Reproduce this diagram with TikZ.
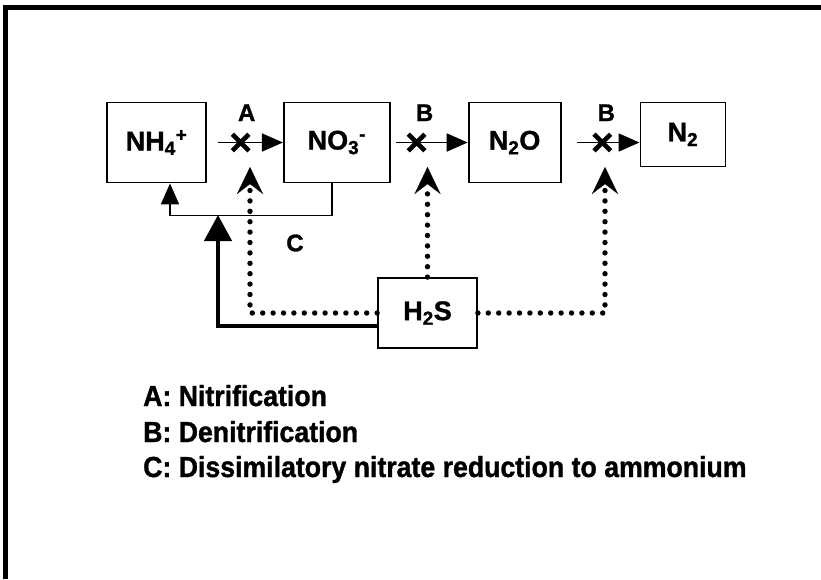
\documentclass[tikz,border=0pt]{standalone}
\usepackage{fontspec}
\setmainfont{Liberation Sans}[BoldFeatures={FakeBold=1.2}]
\newfontfamily\legendfont{Liberation Sans}[FakeStretch=0.92,BoldFeatures={FakeBold=1.2}]
\usepackage{tikz}
\usetikzlibrary{arrows.meta, positioning, shapes.misc}
\tikzset{
  species/.style={rectangle,draw=black,line width=1.8pt,fill=white,
    inner sep=0pt,font=\fontsize{27}{32}\selectfont\bfseries},
  flow/.style={-{Triangle[length=21pt,width=18pt]},line width=1.8pt,draw=black},
  bigflow/.style={-{Triangle[length=26pt,width=27pt]},line width=4.5pt,draw=black},
  dotflow/.style={-{Stealth[length=27pt,width=26pt,inset=10pt,line width=0.1pt]},
    line width=5.4pt,line cap=round,dash pattern=on 0pt off 10.4pt,draw=black},
  xmark/.style={cross out,draw=black,line width=4.6pt,inner sep=0pt,minimum size=12pt},
  tag/.style={inner sep=0pt,font=\fontsize{24}{28}\selectfont\bfseries},
  legend/.style={inner sep=0pt,anchor=base west,
    font=\legendfont\fontsize{29}{34}\selectfont\bfseries}
}
\begin{document}
\begin{tikzpicture}[x=1pt,y=-1pt]
  \useasboundingbox (0,0) rectangle (821,579);
  % frame
  \draw[line width=4.5pt] (5.5,579) -- (5.5,7.5) -- (821,7.5);

  % nitrogen species
  \node[species,minimum width=99pt,minimum height=80pt] (nh4) at (156.5,142.5)
    {NH\textsubscript{4}\textsuperscript{+}};
  \node[species,minimum width=106pt,minimum height=80pt,right=76pt of nh4] (no3)
    {NO\textsubscript{3}\textsuperscript{-}};
  \node[species,minimum width=92pt,minimum height=80pt,right=77pt of no3] (n2o)
    {N\textsubscript{2}O};
  \node[species,minimum width=85pt,minimum height=64pt,anchor=north west]
    (n2) at ([xshift=78pt]n2o.north east) {N\textsubscript{2}};
  \node[species,minimum width=99pt,minimum height=70pt] (h2s) at (427.5,313)
    {H\textsubscript{2}S};

  % blocked steps
  \draw[flow] ([xshift=11pt]nh4.east) -- node[xmark,pos=0.35] (xa) {} (no3.west);
  \draw[flow] ([xshift=5pt]no3.east) -- node[xmark,pos=0.29] (xb1) {} (n2o.west);
  \draw[flow] ([xshift=15pt]n2o.east) -- node[xmark,pos=0.41] (xb2) {} (n2o.east -| n2.west);
  \node[tag,above=13pt of xa,xshift=6pt] (la) {A};
  \node[tag,above=13pt of xb1,xshift=8pt] (lb1) {B};
  \node[tag,above=13pt of xb2,xshift=4pt] (lb2) {B};

  % DNRA
  \draw[flow] ([xshift=-5pt]no3.south) -- ++(0,32) -| ([xshift=13.5pt]nh4.south);
  \node[tag] (lc) at (295,243) {C};
  \coordinate (dnra) at (218,215);
  \draw[bigflow] ([yshift=-13pt]h2s.west) -| (dnra);

  % sulfide inhibition
  \coordinate (tipa) at (250,167);
  \coordinate (tipb1) at (427.5,167);
  \coordinate (tipb2) at (605,167);
  \draw[dotflow] (h2s.west) -| (tipa);
  \draw[dotflow] (h2s.north) -- (tipb1);
  \draw[dotflow] (h2s.east) -| (tipb2);

  % legend
  \node[legend] (lega) at (143,406) {A: Nitrification};
  \node[legend] (legb) at (143,442) {B: Denitrification};
  \node[legend] (legc) at (143,477) {C: Dissimilatory nitrate reduction to ammonium};
\end{tikzpicture}
\end{document}
